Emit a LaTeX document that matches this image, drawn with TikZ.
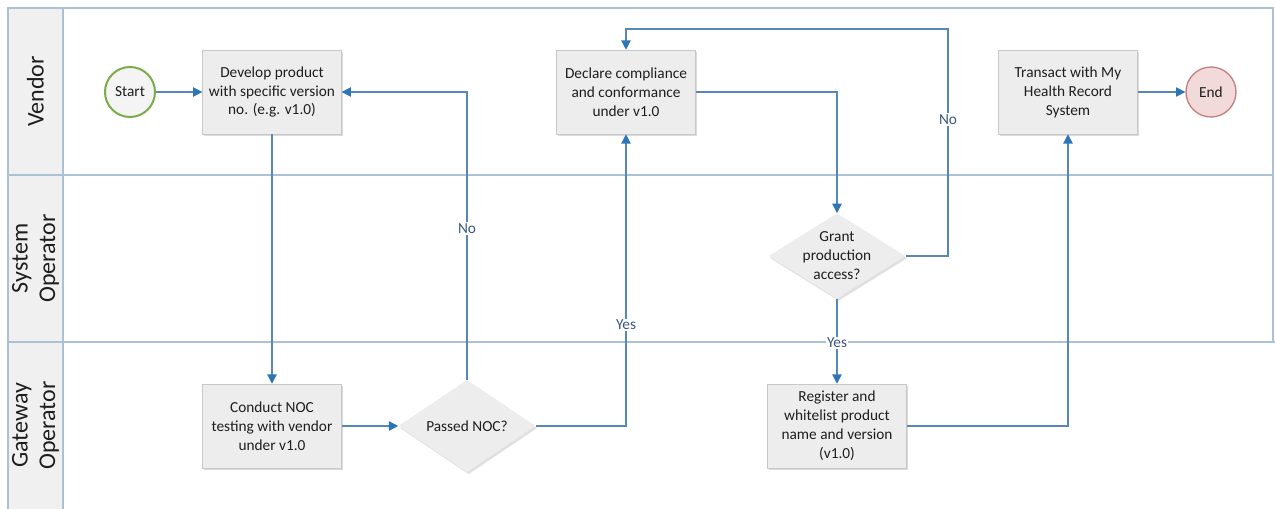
\documentclass[tikz,border=0pt]{standalone}
\usepackage{fontspec}
\setmainfont{Carlito}
\usetikzlibrary{arrows.meta, shapes.geometric, shadows}
\definecolor{flowline}{RGB}{86,135,184}
\definecolor{flowtip}{RGB}{46,117,182}
\definecolor{laneline}{RGB}{172,193,214}
\definecolor{boxfill}{RGB}{237,237,237}
\definecolor{boxline}{RGB}{200,200,200}
\definecolor{headfill}{RGB}{240,240,240}
\definecolor{startline}{RGB}{124,172,74}
\definecolor{endfill}{RGB}{242,218,218}
\definecolor{endline}{RGB}{196,128,128}
\definecolor{labeltext}{RGB}{58,88,126}
\definecolor{bodytext}{RGB}{30,30,30}
\newlength{\taskwidth}
\setlength{\taskwidth}{104pt}
\newlength{\taskheight}
\setlength{\taskheight}{63pt}
\newlength{\eventsize}
\setlength{\eventsize}{37.5pt}
\newcommand{\boxfont}{\fontsize{11.5}{14.2}\selectfont}
\newcommand{\lanefont}{\fontsize{18}{20.5}\selectfont}
\tikzset{task/.style = {shape=rectangle,draw=boxline,fill=boxfill,minimum width=\taskwidth,minimum height=\taskheight,align=center,font=\boxfont,text=bodytext,drop shadow={shadow xshift=1.2pt,shadow yshift=-1.6pt,opacity=0.35,fill=black!40}}}
\tikzset{decision/.style = {shape=diamond,fill=boxfill,inner sep=0pt,minimum width=102.75pt,minimum height=64pt,font=\boxfont,text=bodytext,drop shadow={shadow xshift=1.2pt,shadow yshift=-1.6pt,opacity=0.3,fill=black!40}}}
\tikzset{choice/.style = {align=center,font=\boxfont,text=bodytext}}
\tikzset{startev/.style = {shape=circle,draw=startline,line width=1.5pt,fill=boxfill!60,minimum size=\eventsize,font=\boxfont,text=bodytext}}
\tikzset{endev/.style = {shape=circle,draw=endline,line width=1pt,fill=endfill,minimum size=\eventsize,font=\boxfont,text=bodytext}}
\tikzset{lanetitle/.style = {rotate=90,align=center,font=\lanefont,text=bodytext}}
\tikzset{lane/.style = {draw=laneline,line width=1.2pt}}
\tikzset{edge/.style = {draw=flowline,line width=1pt,-{Triangle[length=7pt,width=7pt,color=flowtip]}}}
\tikzset{edgelabel/.style = {fill=white,inner sep=1pt,font=\boxfont,text=labeltext}}

\begin{document}
\begin{tikzpicture}[x=0.75pt,y=-0.75pt]
                \useasboundingbox[fill=white] (0,0) rectangle (1275,509);
                % lanes
                \fill[headfill] (8,8) rectangle (63,509);
                \draw[lane] (8,509) -- (8,8) -- (1273,8) -- (1273,342);
                \draw[lane] (63,8) -- (63,509);
                \draw[lane] (8,175) -- (1273,175);
                \draw[lane] (8,342) -- (1275,342);
                \node[lanetitle] (vendor) at (35.5,91.5) {Vendor};
                \node[lanetitle] (sysop) at (35.5,258.5) {System\\Operator};
                \node[lanetitle] (gateop) at (35.5,425.5) {Gateway\\Operator};
                % steps
                \node[startev] (start) at (130,92) {Start};
                \node[task] (develop) at (272,92) {Develop product\\with specific version\\no. (e.g. v1.0)};
                \draw[edge] (start) -- (develop);
                \node[task] (conduct) at (272,426) {Conduct NOC\\testing with vendor\\under v1.0};
                \draw[edge] (develop) -- (conduct);
                \node[decision] (passed) at (467,426) {Passed NOC?};
                \draw[edge] (conduct.east) -- (passed.west);
                \draw[edge] (passed.north) |- node[edgelabel,pos=0.263] {No} (develop.east);
                \node[task] (declare) at (626,92) {Declare compliance\\and conformance\\under v1.0};
                \draw[edge] (passed.east) -| node[edgelabel,pos=0.673] {Yes} (declare.south);
                \node[decision] (grant) at (837,256) {};
                \node[choice] (granttext) at (grant) {Grant\\production\\access?};
                \draw[edge] (declare.east) -| (grant.north);
                \draw[edge] (grant.east) -| (948,29) node[edgelabel,pos=0.8] {No} -| (declare.north);
                \node[task] (register) at (837,426) {Register and\\whitelist product\\name and version\\(v1.0)};
                \draw[edge] (grant.south) -- node[edgelabel,pos=0.52] {Yes} (register.north);
                \node[task] (transact) at (1068,92) {Transact with My\\Health Record\\System};
                \draw[edge] (register.east) -| (transact.south);
                \node[endev] (end) at (1211,92) {End};
                \draw[edge] (transact) -- (end);
            \end{tikzpicture}
\end{document}
